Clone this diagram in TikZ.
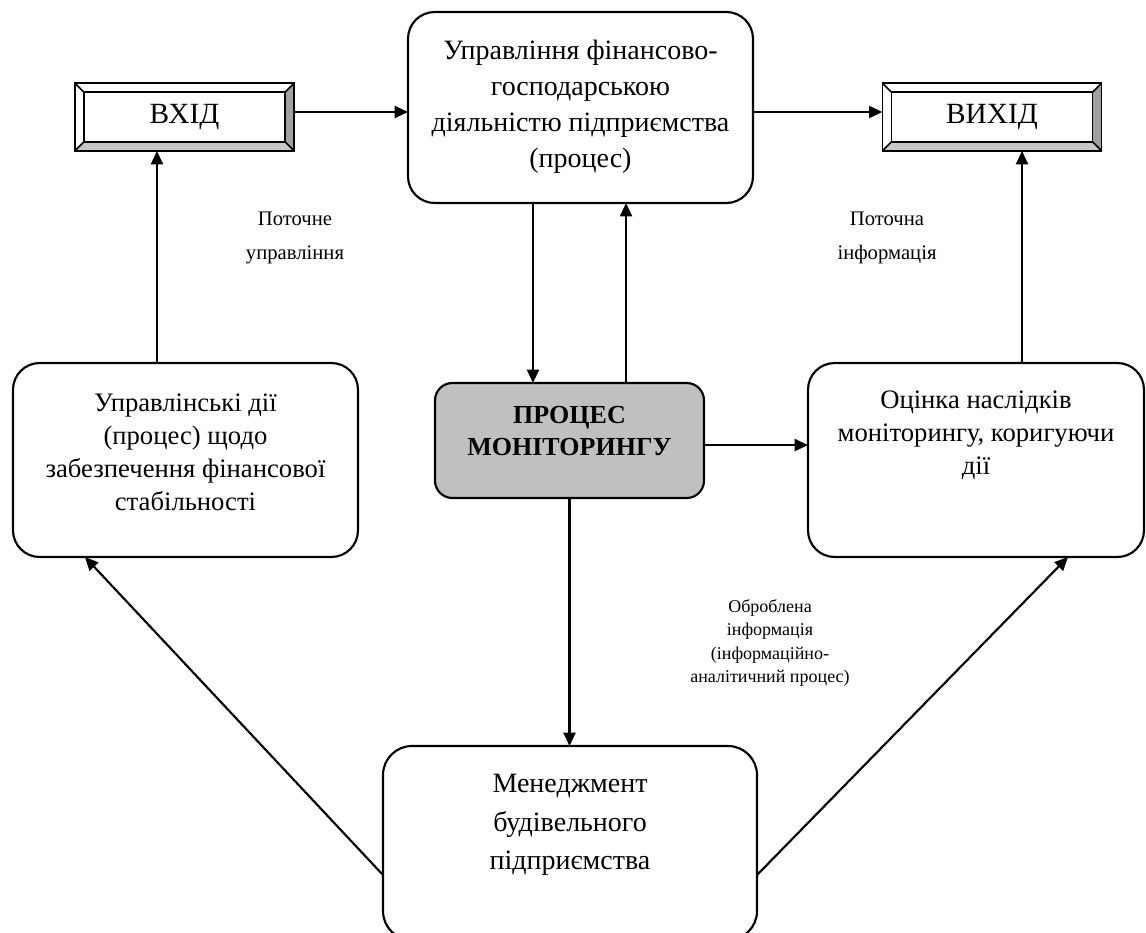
\documentclass[tikz,border=0pt]{standalone}
\usepackage{fontspec}
\setmainfont{Liberation Serif}
\usetikzlibrary{arrows.meta,calc}

\definecolor{bevshade}{HTML}{C8C8C8}
\definecolor{bevdark}{HTML}{A0A0A0}
\definecolor{procgray}{HTML}{C0C0C0}

% framed "button" box: bottom and right bevels shaded, inner frame and corner mitres
\newcommand\bevelframe[1]{%
  \fill[bevshade] (#1.south west) -- (#1.south east) -- ($(#1.south east)+(-9,-9)$) -- ($(#1.south west)+(9,-9)$) -- cycle;
  \fill[bevdark] (#1.south east) -- (#1.north east) -- ($(#1.north east)+(-9,9)$) -- ($(#1.south east)+(-9,-9)$) -- cycle;
  \draw[bevline] ($(#1.north west)+(9,9)$) rectangle ($(#1.south east)+(-9,-9)$);
  \draw[bevline] (#1.north west) -- ($(#1.north west)+(9,9)$);
  \draw[bevline] (#1.north east) -- ($(#1.north east)+(-9,9)$);
  \draw[bevline] (#1.south west) -- ($(#1.south west)+(9,-9)$);
  \draw[bevline] (#1.south east) -- ($(#1.south east)+(-9,-9)$);
  \draw[bevline] (#1.north west) rectangle (#1.south east);
}

\begin{document}
\begin{tikzpicture}[x=0.75pt,y=-0.75pt,line width=1.6pt,
  every node/.style={outer sep=0pt,inner sep=0pt},
  bevelbox/.style={fill=white,minimum width=164.5pt,minimum height=51pt,
    font=\fontsize{22}{26}\selectfont},
  bevline/.style={line width=1.2pt},
  rbox/.style={draw,fill=white,rounded corners=20pt,align=center,
    minimum width=258.75pt,minimum height=145.5pt,
    font=\fontsize{20}{24.75}\selectfont},
  monbox/.style={draw,fill=procgray,rounded corners=13pt,align=center,
    minimum width=201.75pt,minimum height=86.25pt,
    font=\fontsize{19.5}{24}\selectfont\bfseries},
  note/.style={align=center,font=\fontsize{15.5}{25.5}\selectfont},
  smallnote/.style={align=center,font=\fontsize{13.5}{17.5}\selectfont},
  arr/.style={-{Triangle[length=10pt,width=9pt]}}
]
\useasboundingbox (0,0) rectangle (1146,932);
\clip (0,0) rectangle (1146,932);

% input and output
\node[bevelbox,text depth=4pt] (in) at (184.5,117) {ВХІД};
\bevelframe{in}
\node[bevelbox,text depth=4pt] (out) at (992,117) {ВИХІД};
\bevelframe{out}

% process boxes
\node[rbox,minimum width=258.75pt,minimum height=143.25pt,text depth=5.5pt,
  font=\fontsize{21}{27}\selectfont] (proc) at (580.5,107.5)
  {Управління фінансово-\\господарською\\діяльністю підприємства\\(процес)};
\node[rbox,text depth=12pt] (act) at (185.5,460)
  {Управлінські дії\\(процес) щодо\\забезпечення фінансової\\стабільності};
\node[rbox,minimum width=252pt,text depth=41pt] (eval) at (976,460)
  {Оцінка наслідків\\моніторингу, коригуючи\\дії};
\node[monbox,text depth=14pt] (mon) at (569.5,440.5) {ПРОЦЕС\\МОНІТОРИНГУ};
\node[rbox,minimum width=280.5pt,rounded corners=21.75pt,text depth=31.6pt,
  font=\fontsize{21}{29}\selectfont] (mgmt) at (570,843)
  {Менеджмент\\будівельного\\підприємства};

% flow labels
\node[note] (lblctl) at (295,238) {Поточне\\управління};
\node[note] (lblinf) at (887,238) {Поточна\\інформація};
\node[smallnote] (lblproc) at (770,643)
  {Оброблена\\інформація\\(інформаційно-\\аналітичний процес)};

% connectors
\draw[arr] ([yshift=3.75pt]in.east) -- ([yshift=3.75pt]in.east -| proc.west);
\draw[arr] ([yshift=3.75pt]in.east -| proc.east) -- ([yshift=3.75pt]out.west);
\draw[arr] ([xshift=-21.4pt]act.north) -- ([xshift=-21.4pt]act.north |- in.south);
\draw[arr] ([xshift=34.5pt]eval.north) -- ([xshift=34.5pt]eval.north |- out.south);
\draw[arr] ([xshift=-27.4pt]mon.north |- proc.south) -- ([xshift=-27.4pt]mon.north);
\draw[arr] ([xshift=42.4pt]mon.north) -- ([xshift=42.4pt]mon.north |- proc.south);
\draw[arr] ([yshift=-3.4pt]mon.east) -- ([yshift=-3.4pt]mon.east -| eval.west);
\draw[arr] (mon.south) -- (mon.south |- mgmt.north);
\draw[arr] ([yshift=-24pt]mgmt.west) -- ([xshift=-75.4pt]act.south);
\draw[arr] ([yshift=-24pt]mgmt.east) -- ([xshift=69pt]eval.south);
\end{tikzpicture}
\end{document}
